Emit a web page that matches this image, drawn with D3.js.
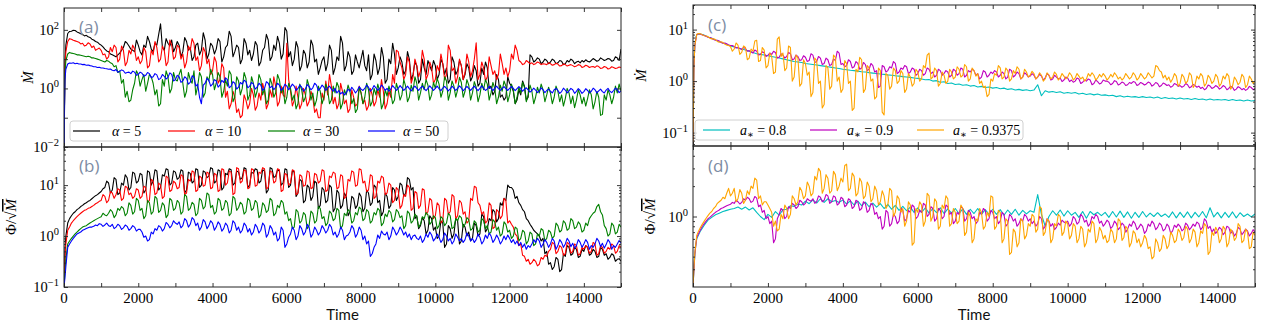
<!DOCTYPE html>
<html>
<head>
<meta charset="utf-8">
<script src="https://cdn.jsdelivr.net/npm/d3@7"></script>
<style>
body { margin: 0; background: #fff; }
text { font-family: "Liberation Serif", "DejaVu Serif", serif; }
</style>
</head>
<body>
<svg id="chart" width="1262" height="330"></svg>
<script>
// coarse time samples (smooth runs)
const timeCoarse = [0, 25, 50, 75,
  100, 200, 300, 400, 500, 600, 700, 800, 900, 1000,
  1100, 1200, 1300, 1400, 1500, 1600, 1700, 1800, 1900, 2000,
  2100, 2200, 2300, 2400, 2500, 2600, 2700, 2800, 2900, 3000,
  3100, 3200, 3300, 3400, 3500, 3600, 3700, 3800, 3900, 4000,
  4100, 4200, 4300, 4400, 4500, 4600, 4700, 4800, 4900, 5000,
  5100, 5200, 5300, 5400, 5500, 5600, 5700, 5800, 5900, 6000,
  6100, 6200, 6300, 6400, 6500, 6600, 6700, 6800, 6900, 7000,
  7100, 7200, 7300, 7400, 7500, 7600, 7700, 7800, 7900, 8000,
  8100, 8200, 8300, 8400, 8500, 8600, 8700, 8800, 8900, 9000,
  9100, 9200, 9300, 9400, 9500, 9600, 9700, 9800, 9900, 10000,
  10100, 10200, 10300, 10400, 10500, 10600, 10700, 10800, 10900, 11000,
  11100, 11200, 11300, 11400, 11500, 11600, 11700, 11800, 11900, 12000,
  12100, 12200, 12300, 12400, 12500, 12600, 12700, 12800, 12900, 13000,
  13100, 13200, 13300, 13400, 13500, 13600, 13700, 13800, 13900, 14000,
  14100, 14200, 14300, 14400, 14500, 14600, 14700, 14800, 14900, 15000];

// fine time samples (noisy runs)
const timeFine = [0, 25,
  50, 100, 150, 200, 250, 300, 350, 400, 450, 500, 550, 600, 650, 700, 750, 800, 850, 900, 950, 1000,
  1050, 1100, 1150, 1200, 1250, 1300, 1350, 1400, 1450, 1500, 1550, 1600, 1650, 1700, 1750, 1800, 1850, 1900, 1950, 2000,
  2050, 2100, 2150, 2200, 2250, 2300, 2350, 2400, 2450, 2500, 2550, 2600, 2650, 2700, 2750, 2800, 2850, 2900, 2950, 3000,
  3050, 3100, 3150, 3200, 3250, 3300, 3350, 3400, 3450, 3500, 3550, 3600, 3650, 3700, 3750, 3800, 3850, 3900, 3950, 4000,
  4050, 4100, 4150, 4200, 4250, 4300, 4350, 4400, 4450, 4500, 4550, 4600, 4650, 4700, 4750, 4800, 4850, 4900, 4950, 5000,
  5050, 5100, 5150, 5200, 5250, 5300, 5350, 5400, 5450, 5500, 5550, 5600, 5650, 5700, 5750, 5800, 5850, 5900, 5950, 6000,
  6050, 6100, 6150, 6200, 6250, 6300, 6350, 6400, 6450, 6500, 6550, 6600, 6650, 6700, 6750, 6800, 6850, 6900, 6950, 7000,
  7050, 7100, 7150, 7200, 7250, 7300, 7350, 7400, 7450, 7500, 7550, 7600, 7650, 7700, 7750, 7800, 7850, 7900, 7950, 8000,
  8050, 8100, 8150, 8200, 8250, 8300, 8350, 8400, 8450, 8500, 8550, 8600, 8650, 8700, 8750, 8800, 8850, 8900, 8950, 9000,
  9050, 9100, 9150, 9200, 9250, 9300, 9350, 9400, 9450, 9500, 9550, 9600, 9650, 9700, 9750, 9800, 9850, 9900, 9950, 10000,
  10050, 10100, 10150, 10200, 10250, 10300, 10350, 10400, 10450, 10500, 10550, 10600, 10650, 10700, 10750, 10800, 10850, 10900, 10950, 11000,
  11050, 11100, 11150, 11200, 11250, 11300, 11350, 11400, 11450, 11500, 11550, 11600, 11650, 11700, 11750, 11800, 11850, 11900, 11950, 12000,
  12050, 12100, 12150, 12200, 12250, 12300, 12350, 12400, 12450, 12500, 12550, 12600, 12650, 12700, 12750, 12800, 12850, 12900, 12950, 13000,
  13050, 13100, 13150, 13200, 13250, 13300, 13350, 13400, 13450, 13500, 13550, 13600, 13650, 13700, 13750, 13800, 13850, 13900, 13950, 14000,
  14050, 14100, 14150, 14200, 14250, 14300, 14350, 14400, 14450, 14500, 14550, 14600, 14650, 14700, 14750, 14800, 14850, 14900, 14950, 15000];

// (a) accretion rate, alpha runs
const mdotA5 = [0.01, 8,
  30, 75, 88, 90, 96, 95, 85, 80, 74, 70, 62, 65, 58, 55, 48, 45, 40, 38, 33, 30,
  26, 22, 19, 18, 15, 14, 13, 12, 14, 16, 20, 25, 40, 35, 28, 22, 20, 18, 45, 30,
  18, 14, 30, 25, 60, 40, 22, 18, 35, 30, 70, 160, 25, 20, 50, 35, 28, 45, 18, 25,
  40, 30, 12, 18, 55, 40, 20, 25, 9, 12, 30, 35, 14, 20, 80, 45, 10, 15, 35, 28,
  15, 22, 50, 40, 8, 12, 25, 30, 90, 60, 12, 18, 30, 25, 7, 10, 50, 35, 14, 20,
  9, 15, 40, 30, 6, 8, 20, 25, 70, 45, 9, 12, 30, 20, 60, 35, 10, 15, 120, 90,
  12, 18, 6, 10, 40, 25, 4, 6, 20, 15, 5, 8, 45, 30, 8, 10, 3, 5, 9, 12,
  4, 7, 30, 20, 3, 5, 12, 9, 60, 35, 4, 6, 18, 12, 3, 4, 14, 8, 5, 10,
  20, 6, 4, 14, 2, 3, 15, 9, 3, 5, 25, 12, 1.5, 2, 10, 7, 35, 15, 3, 5,
  12, 8, 3, 4, 18, 10, 2, 3, 8, 6, 1.5, 2, 10, 5, 3, 9, 6, 4, 9, 6,
  2, 3, 10, 7, 3, 5, 1.5, 2, 12, 8, 3, 4, 9, 6, 2, 3, 7, 5, 1.8, 2.5,
  6, 4, 1.2, 1.5, 5, 3, 8, 5, 1, 1.2, 0.6, 0.8, 3, 2, 0.5, 0.6, 0.4, 0.5, 2.5, 1.5,
  1.2, 0.8, 0.3, 0.4, 0.9, 0.6, 1.8, 1.2, 0.4, 0.5, 14, 12, 8, 9, 11, 10, 7, 8, 10, 9,
  7, 8, 10, 9, 7, 7.5, 9, 8.5, 6.5, 7, 9, 8, 10, 9, 7, 8, 8.5, 7.5, 9, 8,
  9.5, 8.5, 8, 9, 10.5, 9.5, 8.5, 9, 11, 10, 9, 9.5, 10.5, 10, 8.5, 9, 12, 11, 9, 22];
const mdotA10 = [0.01, 5,
  18, 40, 50, 48, 44, 42, 40, 38, 33, 35, 28, 30, 36, 33, 25, 28, 20, 22, 24, 20,
  14, 15, 10, 12, 25, 18, 30, 25, 8, 10, 28, 20, 6, 8, 20, 15, 30, 22, 9, 12,
  7, 9, 25, 18, 5, 6, 20, 14, 40, 25, 8, 10, 28, 20, 6, 8, 45, 30, 10, 12,
  30, 25, 10, 15, 5, 8, 28, 20, 50, 35, 9, 12, 4, 6, 25, 18, 7, 10, 3, 4,
  12, 8, 1.5, 2, 7, 5, 0.5, 0.8, 0.2, 0.3, 0.8, 0.5, 0.15, 0.2, 0.1, 0.12, 0.6, 0.4, 0.2, 0.3,
  1, 0.6, 0.18, 0.25, 0.7, 0.4, 1.5, 0.8, 0.2, 0.3, 0.9, 0.5, 2.5, 1.2, 0.25, 0.35, 1.2, 0.6, 0.5, 35,
  2, 0.8, 0.25, 0.4, 1.2, 0.5, 0.2, 0.3, 1, 0.6, 0.25, 0.35, 0.8, 0.5, 0.15, 0.2, 0.1, 0.1, 0.7, 0.4,
  1.8, 0.6, 3, 1.2, 0.3, 0.5, 0.2, 0.3, 1.5, 0.8, 0.3, 0.4, 0.15, 0.2, 0.9, 0.5, 0.25, 0.3, 1.2, 0.7,
  0.3, 0.4, 0.18, 0.25, 1, 0.6, 0.25, 0.35, 0.9, 0.5, 2, 0.8, 0.2, 0.3, 0.8, 0.5, 3, 1.5, 20, 18,
  8, 5, 2, 3, 12, 8, 1.5, 2.5, 10, 6, 2.5, 4, 20, 10, 2, 3, 8, 5, 1.5, 2,
  6, 4, 15, 7, 2, 3, 30, 20, 4, 5, 1.5, 2.5, 10, 6, 2, 3.5, 15, 8, 2.5, 4,
  10, 36, 2, 3, 8, 5, 1.8, 2.5, 12, 6, 3, 4, 2, 3, 15, 7, 3, 5, 2.5, 4,
  15, 10, 30, 20, 9, 8, 6.5, 7, 9, 8, 7, 7.5, 6.5, 7, 8, 7.5, 6.5, 7, 6.8, 6.5,
  7.5, 7, 6.2, 6.5, 7.2, 6.8, 5.8, 6, 6.8, 6.5, 5.8, 6.2, 6.5, 6, 5.5, 5.8, 6.5, 6.2, 5.2, 5.5,
  6.2, 5.8, 5.2, 5.5, 5.6, 5.2, 5.9, 5.6, 4.8, 5, 5.6, 5.3, 4.6, 4.8, 5.5, 5.2, 4.8, 5, 5.4, 5.2];
const mdotA30 = [0.01, 3,
  9, 15, 17, 16, 15.5, 15, 14, 14, 13.5, 13, 12.5, 12, 12.5, 12, 11, 11, 10.5, 10, 9.5, 9,
  8.5, 8, 9, 8.5, 7.5, 7, 5.5, 6, 3.5, 4, 1.5, 2, 0.5, 0.8, 0.35, 0.4, 0.9, 1.5, 4, 3,
  1.2, 2, 3, 0.8, 1.5, 3, 2.5, 1.5, 0.6, 0.9, 0.25, 0.3, 2, 1.2, 4, 2.5, 0.7, 1, 3.5, 2,
  1.8, 3, 4.5, 1.5, 0.5, 0.8, 3.5, 2, 1.5, 4, 0.6, 1.2, 3.5, 2.5, 0.5, 0.7, 2.5, 1.8, 4.5, 3,
  0.9, 1.5, 3.5, 2.5, 0.5, 0.8, 2, 1.2, 4, 3, 0.35, 0.5, 2.5, 1.8, 0.6, 1, 3.5, 2.2, 0.4, 0.6,
  2.5, 1.5, 0.5, 0.8, 3, 2, 0.6, 1, 0.3, 0.4, 2.2, 1.4, 0.5, 0.7, 3, 2, 0.7, 1.1, 0.3, 0.5,
  1.5, 1, 0.4, 0.6, 0.2, 0.3, 1.4, 0.9, 0.35, 0.5, 2, 1.2, 0.4, 0.7, 0.25, 0.4, 1.2, 0.8, 0.3, 0.5,
  1.4, 0.9, 0.3, 0.4, 1.2, 0.7, 1.6, 1.1, 0.2, 0.3, 0.9, 0.6, 1.3, 0.8, 0.3, 0.45, 0.15, 0.2, 1.1, 0.7,
  0.3, 0.5, 1.5, 0.9, 0.25, 0.35, 1, 0.6, 1.4, 0.8, 0.2, 0.3, 0.9, 0.55, 1.2, 0.7, 0.3, 0.4, 1.5, 0.9,
  0.4, 0.6, 2, 1.2, 0.35, 0.5, 1.3, 0.8, 2.5, 1.5, 0.4, 0.7, 1.5, 0.9, 2, 1.3, 0.4, 0.6, 1.6, 1,
  2.2, 1.4, 0.5, 0.8, 2.5, 1.8, 0.4, 0.7, 1.8, 1.2, 0.5, 0.9, 2.4, 1.6, 0.5, 0.8, 2, 1.3, 0.4, 0.7,
  1.7, 1.1, 0.35, 0.6, 1.5, 0.9, 2, 1.4, 0.4, 0.7, 1.6, 1, 0.3, 0.5, 1.3, 0.8, 1.8, 1.2, 0.35, 0.6,
  1.4, 0.9, 0.3, 0.5, 1.1, 0.7, 1.6, 1.1, 0.35, 0.6, 1.3, 0.8, 0.3, 0.5, 1.1, 0.7, 1.4, 0.9, 0.35, 0.6,
  1.1, 0.7, 0.3, 0.5, 1.2, 0.8, 0.35, 0.6, 0.25, 0.45, 1, 0.7, 0.3, 0.55, 0.22, 0.4, 0.9, 0.6, 0.3, 0.5,
  0.25, 0.45, 0.9, 0.6, 0.2, 0.35, 0.8, 0.5, 0.12, 0.13, 0.6, 0.4, 0.9, 0.6, 0.3, 0.5, 1.2, 0.7, 1.4, 0.8];
const mdotA50 = [0.01, 2,
  4.5, 6.8, 7.4, 7.2, 7.5, 7, 7.2, 6.8, 6.8, 6.5, 6.6, 6.2, 6.3, 6, 5.8, 5.5, 5.5, 5.2, 5.3, 5,
  5, 4.8, 4.7, 4.5, 4.6, 4.2, 4, 4.4, 3.6, 3.8, 4.3, 4, 3.3, 3.5, 3.6, 3.2, 3.9, 3.6, 2.8, 3,
  3.6, 3.3, 2.6, 2.8, 3.5, 3.2, 2.3, 2.5, 3.2, 2.9, 2, 2.2, 3, 2.6, 2.1, 2.4, 3.4, 3, 1.8, 2,
  2.8, 2.5, 1.6, 1.8, 2.5, 2.2, 1.4, 1.6, 2.7, 2.4, 1.2, 1.4, 0.5, 0.3, 1.3, 1.5, 2.2, 1.9, 1.2, 1.4,
  2, 1.8, 1.1, 1.3, 1.9, 1.6, 2.3, 2, 1.05, 1.2, 1.7, 1.5, 0.95, 1.1, 1.6, 1.4, 1.9, 1.7, 1.05, 1.2,
  1.6, 1.4, 0.95, 1.1, 1.5, 1.3, 0.85, 1, 1.7, 1.5, 1.05, 1.2, 0.9, 1.1, 1.5, 1.3, 0.85, 1, 1.4, 1.2,
  0.9, 1.1, 1.4, 1.2, 0.85, 1, 1.3, 1.1, 0.8, 0.95, 1.35, 1.15, 0.9, 1.05, 1.5, 1.3, 0.85, 1, 1.3, 1.1,
  0.85, 1.05, 1.2, 0.95, 0.8, 1, 0.7, 0.85, 0.65, 0.75, 0.6, 0.7, 0.95, 0.8, 1.1, 0.9, 0.7, 0.85, 1.15, 0.95,
  0.85, 1, 1.3, 1.1, 0.8, 0.95, 1.25, 1.05, 0.85, 1, 1.3, 1.1, 0.85, 1, 0.8, 0.95, 1.25, 1.05, 0.85, 1,
  1.25, 1.05, 0.85, 1, 1.2, 0.98, 0.82, 1.02, 1.2, 1, 0.85, 1.05, 1.2, 0.98, 0.84, 1, 1.22, 1.03, 0.85, 1,
  1.2, 0.97, 0.84, 1.03, 1.18, 1, 0.82, 0.96, 1.2, 1.02, 0.85, 1, 1.22, 1.04, 0.83, 0.98, 1.18, 1, 0.86, 1.02,
  1.2, 0.98, 0.84, 1, 1.22, 1.03, 0.85, 0.97, 1.18, 1, 0.84, 1.02, 1.2, 0.99, 0.86, 1.01, 1.16, 0.98, 0.85, 1,
  1.18, 1, 0.84, 0.98, 1.15, 1, 0.8, 0.95, 1.05, 0.9, 0.75, 0.85, 1.02, 0.88, 0.72, 0.82, 1.05, 0.9, 0.72, 0.85,
  0.95, 0.8, 0.7, 0.9, 1, 0.85, 0.68, 0.78, 1.02, 0.88, 0.7, 0.82, 1, 0.9, 0.68, 0.8, 0.98, 0.85, 0.68, 0.78,
  0.98, 0.85, 0.7, 0.8, 1.02, 0.9, 0.7, 0.82, 0.95, 0.78, 0.7, 0.88, 1, 0.8, 0.72, 0.85, 1.02, 0.9, 0.72, 0.82];

// (b) flux ratio, alpha runs
const phiA5 = [0.1, 0.5,
  1.0, 1.8, 2.2, 2.5, 2.8, 3.0, 3.3, 3.5, 3.8, 4.0, 4.3, 4.5, 4.8, 5.0, 5.4, 5.8, 6.2, 6.5, 7, 7.5,
  8.5, 9, 12, 11, 7, 8, 14, 13, 6.5, 7, 11, 10, 16, 14, 8, 9, 18, 17, 11, 12,
  17, 16, 7, 8, 19, 18, 10, 12, 20, 19, 8, 9, 16, 15, 21, 20, 10, 11, 19, 18,
  13, 14, 20, 19, 7, 8, 18, 17, 11, 12, 21, 20, 9, 10, 19, 18, 14, 15, 22, 21,
  11, 12, 20, 19, 8, 9, 17, 16, 21, 20, 10, 11, 19, 18, 13, 14, 22, 21, 9, 10,
  18, 17, 21, 20, 11, 12, 20, 19, 7, 8, 22, 21, 14, 15, 20, 19, 10, 11, 21, 20,
  9, 10, 19, 18, 6, 7, 13, 12, 4.5, 5, 10, 9, 5, 6, 12, 11, 3.5, 4, 9, 8,
  4.5, 5, 10, 9, 3, 3.5, 8, 7, 3.5, 4, 7, 6, 2.5, 3, 6, 5.5, 3.5, 4, 7, 6,
  3, 3.5, 8, 7, 4, 4.5, 10, 9, 4.5, 5, 2.5, 3, 7, 6, 3.5, 4, 9, 8, 5, 6,
  11, 10, 6, 7, 14, 13, 8, 9, 2.2, 2.5, 1.4, 1.6, 2.3, 2, 1.1, 1.3, 2.5, 2.2, 1.3, 1.5,
  0.9, 1, 2, 1.8, 0.6, 0.7, 1.6, 1.4, 0.9, 1.1, 2.2, 2, 0.7, 0.8, 1.7, 1.5, 1.0, 1.2, 0.8, 0.9,
  1.8, 1.6, 1, 1.1, 2.7, 2.4, 1.2, 1.4, 2.2, 2, 3.3, 3, 1.9, 2.2, 4.5, 4, 5.5, 5, 10, 9,
  9, 8, 5.5, 6, 4.5, 4, 3.3, 3, 2.2, 2, 1.7, 1.5, 1.3, 1.2, 1.1, 1, 0.8, 0.9, 0.45, 0.5,
  0.28, 0.3, 0.22, 0.25, 0.38, 0.35, 0.2, 0.22, 0.45, 0.4, 0.65, 0.6, 0.42, 0.45, 0.6, 0.55, 0.38, 0.4, 0.55, 0.5,
  0.65, 0.6, 0.42, 0.45, 0.55, 0.5, 0.38, 0.4, 0.6, 0.55, 0.42, 0.45, 0.35, 0.38, 0.45, 0.42, 0.32, 0.35, 0.36, 0.32];
const phiA10 = [0.1, 0.35,
  0.7, 1.3, 1.5, 1.8, 2.0, 2.2, 2.4, 2.6, 2.8, 3, 3.2, 3.3, 3.5, 3.6, 3.8, 4, 4.3, 4.5, 4.8, 5,
  6.5, 6, 4.5, 5, 7.5, 7, 5.5, 6.5, 8.5, 8, 5, 5.5, 9.5, 9, 6.5, 7, 5.5, 6, 8.5, 8,
  5.5, 6, 9.5, 9, 4.5, 5, 13, 12, 6.5, 7, 11, 10, 5.5, 6, 15, 14, 7.5, 8, 12, 11,
  8.5, 9, 16, 15, 6.5, 7, 13, 12, 19, 18, 7.5, 8, 15, 14, 9.5, 10, 18, 17, 8.5, 9,
  17, 16, 7.5, 8, 21, 20, 10, 11, 19, 18, 6.5, 7, 22, 21, 11, 12, 20, 19, 8.5, 9,
  21, 20, 9.5, 10, 18, 17, 22, 21, 8.5, 9, 19, 18, 11, 12, 21, 20, 7.5, 8, 17, 16,
  10, 11, 20, 19, 6.5, 7, 16, 15, 9.5, 10, 19, 18, 8.5, 9, 17, 16, 11, 12, 20, 19,
  7.5, 8, 15, 14, 18, 17, 8.5, 9, 16, 15, 5.5, 6, 13, 12, 19, 18, 9.5, 10, 21, 20,
  11, 12, 7.5, 8, 16, 15, 5.5, 6, 12, 11, 15, 14, 6.5, 7, 11, 10, 4.5, 5, 9, 8,
  3.5, 4, 6.5, 6, 10, 9, 3.2, 3.5, 7.5, 7, 3.5, 4, 8.5, 8, 2.7, 3, 5.5, 5, 2.2, 2.5,
  4.5, 4, 1.8, 2, 5.5, 5, 2.7, 3, 6.5, 6, 2.2, 2.5, 5, 4.5, 2.7, 3, 1.8, 2, 5.5, 5,
  9.5, 9, 4.5, 4, 2.7, 3, 1.8, 2, 4.5, 4, 1.4, 1.5, 3.3, 3, 2.2, 2.5, 5.5, 5, 1.8, 2,
  1.7, 1.5, 1.1, 1, 0.65, 0.7, 0.42, 0.4, 0.32, 0.35, 0.28, 0.3, 0.35, 0.32, 0.26, 0.28, 0.38, 0.35, 0.42, 0.4,
  0.5, 0.55, 0.75, 0.7, 0.45, 0.5, 0.65, 0.6, 0.42, 0.45, 0.75, 0.7, 0.46, 0.5, 0.7, 0.65, 0.42, 0.45, 0.6, 0.55,
  0.65, 0.6, 0.46, 0.5, 0.75, 0.7, 0.42, 0.45, 0.65, 0.6, 0.46, 0.5, 0.6, 0.55, 0.7, 0.65, 0.46, 0.5, 0.65, 0.6];
const phiA30 = [0.1, 0.2,
  0.35, 0.7, 0.8, 0.9, 1.0, 1.1, 1.2, 1.3, 1.4, 1.5, 1.55, 1.6, 1.7, 1.8, 1.9, 2, 2.1, 2.2, 2.3, 2.4,
  2.8, 2.6, 2.5, 2.8, 3.3, 3, 2.3, 2.6, 3.5, 3.2, 3.8, 3.5, 2.5, 2.8, 4.5, 4, 2.7, 3, 5.5, 5,
  3.2, 3.5, 2.2, 2.5, 5, 4.5, 2.7, 3, 6, 5.5, 2.9, 3.2, 4.5, 4, 2.3, 2.6, 5.5, 5, 3.2, 3.5,
  5, 4.5, 2.7, 3, 6.5, 6, 3.2, 3.5, 4.6, 4.2, 2.5, 2.8, 5.5, 5, 3.4, 3.8, 7, 6.5, 3.6, 4,
  2.7, 3, 5.5, 5, 3.2, 3.5, 5, 4.5, 2.5, 2.8, 6, 5.5, 3.2, 3.6, 4.6, 4.2, 2.7, 3, 5.5, 5,
  3.2, 3.5, 5, 4.5, 2.3, 2.6, 4.5, 4, 2.9, 3.2, 5.5, 5, 2.5, 2.8, 4, 3.6, 5, 4.5, 2.7, 3,
  2, 2.2, 1.4, 1.5, 3.3, 3, 1.8, 2, 2.9, 2.6, 1.4, 1.6, 3.1, 2.8, 1.8, 2, 3.8, 3.5, 2.2, 2.4,
  1.6, 1.8, 3.1, 2.8, 2, 2.2, 3.5, 3.2, 1.4, 1.6, 2.8, 2.5, 3.3, 3, 1.8, 2, 2.9, 2.6, 3.7, 3.4,
  2, 2.2, 3.3, 3, 1.8, 2, 2.9, 2.6, 3.5, 3.2, 1.6, 1.8, 2.7, 2.4, 3.2, 2.9, 1.9, 2.1, 3.3, 3,
  2.3, 2.5, 1.4, 1.6, 3.1, 2.8, 1.8, 2, 2.7, 2.4, 1.5, 1.7, 2.4, 2.2, 2.9, 2.6, 1.7, 1.9, 2.5, 2.3,
  1.4, 1.6, 2.4, 2.2, 1.6, 1.8, 2.8, 2.5, 1.4, 1.5, 2.2, 2, 2.5, 2.3, 1.5, 1.7, 2.3, 2.1, 1.3, 1.4,
  2, 1.8, 1.2, 1.3, 2.2, 2, 1.4, 1.6, 1.1, 1.2, 2.1, 1.9, 1.3, 1.5, 1, 1.1, 1.9, 1.7, 1.2, 1.3,
  0.9, 1, 1.5, 1.4, 0.8, 0.9, 1.3, 1.2, 0.7, 0.8, 1.2, 1.1, 0.65, 0.7, 1.1, 1, 1.4, 1.3, 0.8, 0.9,
  1.3, 1.2, 0.9, 1, 1.8, 1.6, 1.2, 1.3, 2, 1.8, 1.3, 1.4, 2.2, 2, 1.4, 1.5, 1.9, 1.7, 1.2, 1.3,
  1.8, 1.6, 2.2, 2.5, 2.8, 3, 3.8, 4.2, 3, 2.6, 1.6, 1.4, 1.0, 1.1, 1.8, 1.6, 1.1, 1.2, 1.7, 1.5];
const phiA50 = [0.1, 0.15,
  0.25, 0.6, 0.7, 0.8, 0.9, 1.0, 1.1, 1.15, 1.2, 1.3, 1.35, 1.4, 1.45, 1.5, 1.5, 1.55, 1.65, 1.6, 1.75, 1.7,
  1.55, 1.65, 1.8, 1.6, 1.55, 1.7, 1.4, 1.5, 1.7, 1.6, 1.35, 1.45, 1.65, 1.55, 1.3, 1.4, 1.6, 1.5, 1.25, 1.35,
  1.35, 1.2, 0.95, 1.0, 0.8, 0.85, 1.2, 1.1, 1.4, 1.3, 1.6, 1.5, 1.25, 1.4, 1.85, 1.7, 1.45, 1.6, 2.0, 1.8,
  1.7, 1.9, 1.45, 1.6, 2.2, 2.0, 1.5, 1.7, 2.3, 2.1, 1.6, 1.8, 1.3, 1.5, 2.1, 1.9, 1.4, 1.6, 2.0, 1.8,
  1.3, 1.5, 1.9, 1.7, 1.25, 1.4, 1.8, 1.6, 1.15, 1.3, 2.0, 1.8, 1.3, 1.5, 1.15, 1.3, 1.8, 1.6, 1.2, 1.4,
  1.05, 1.2, 1.7, 1.5, 1.15, 1.3, 1.8, 1.6, 0.95, 1.1, 1.6, 1.4, 1.05, 1.2, 0.8, 0.9, 1.5, 1.3, 0.6, 0.7,
  0.95, 1.1, 1.5, 1.3, 0.85, 1.0, 1.6, 1.4, 1.05, 1.2, 1.7, 1.5, 0.95, 1.1, 1.5, 1.3, 1.05, 1.2, 1.6, 1.4,
  1.15, 1.3, 1.7, 1.5, 1.05, 1.2, 0.95, 1.1, 1.5, 1.3, 0.85, 1.0, 1.05, 1.2, 1.6, 1.4, 0.95, 1.1, 1.5, 1.3,
  0.85, 1.0, 0.7, 0.8, 0.4, 0.45, 0.6, 0.7, 1.05, 0.9, 1.25, 1.1, 1.05, 1.2, 0.85, 1.0, 1.5, 1.3, 1.05, 1.2,
  1.5, 1.3, 1.05, 1.2, 0.95, 1.1, 0.85, 1.0, 1.05, 0.9, 0.85, 1.0, 0.75, 0.85, 1.1, 0.95, 1.2, 1.05, 0.8, 0.9,
  1.1, 0.95, 0.75, 0.85, 1.15, 1.0, 0.8, 0.9, 0.7, 0.8, 1.1, 0.95, 0.8, 0.9, 0.75, 0.85, 1.15, 1.0, 0.8, 0.9,
  0.75, 0.85, 1.1, 0.95, 0.7, 0.8, 1.05, 0.9, 1.15, 1.0, 0.75, 0.85, 1.05, 0.9, 0.7, 0.8, 1.0, 0.85, 1.05, 0.9,
  0.75, 0.85, 0.7, 0.8, 0.65, 0.75, 0.6, 0.7, 0.55, 0.65, 0.6, 0.7, 0.85, 0.75, 0.9, 0.8, 0.6, 0.7, 0.85, 0.75,
  0.6, 0.7, 0.9, 0.8, 0.55, 0.65, 0.85, 0.75, 0.6, 0.7, 0.9, 0.8, 0.62, 0.72, 0.58, 0.65, 0.85, 0.75, 0.6, 0.7,
  0.85, 0.75, 0.55, 0.65, 0.6, 0.7, 0.9, 0.8, 0.62, 0.72, 0.58, 0.68, 0.85, 0.75, 0.55, 0.65, 0.6, 0.7, 0.82, 0.72];

// (c) accretion rate, spin runs
const mdotS80 = [0.055, 2, 5, 7,
  8.0, 8.2, 7.8, 7.2, 6.8, 6.3, 5.9, 5.5, 5.2, 4.8,
  4.6, 4.4, 4.2, 4.0, 3.8, 3.6, 3.4, 3.3, 3.2, 3.1,
  3.0, 2.9, 2.8, 2.7, 2.6, 2.5, 2.4, 2.35, 2.3, 2.2,
  2.15, 2.1, 2.05, 2.0, 1.95, 1.9, 1.85, 1.8, 1.75, 1.7,
  1.66, 1.62, 1.6, 1.56, 1.52, 1.5, 1.46, 1.43, 1.4, 1.37,
  1.35, 1.32, 1.3, 1.27, 1.25, 1.22, 1.2, 1.18, 1.15, 1.13,
  1.1, 1.06, 1.07, 1.0, 1.02, 0.95, 0.97, 0.9, 0.92, 0.86,
  0.88, 0.83, 0.85, 0.8, 0.82, 0.77, 0.79, 0.75, 0.77, 0.73,
  0.75, 0.71, 0.73, 0.69, 0.71, 0.67, 0.69, 0.66, 0.68, 0.65,
  0.67, 0.85, 0.52, 0.65, 0.61, 0.63, 0.6, 0.62, 0.58, 0.6,
  0.58, 0.6, 0.56, 0.58, 0.55, 0.57, 0.54, 0.56, 0.53, 0.54,
  0.52, 0.53, 0.5, 0.52, 0.49, 0.51, 0.49, 0.5, 0.48, 0.5,
  0.48, 0.49, 0.47, 0.49, 0.46, 0.48, 0.46, 0.47, 0.45, 0.47,
  0.45, 0.46, 0.44, 0.46, 0.44, 0.45, 0.43, 0.45, 0.43, 0.44,
  0.43, 0.44, 0.42, 0.44, 0.42, 0.43, 0.41, 0.43, 0.41, 0.42];
const mdotS90 = [0.055, 2,
  5, 8.0, 8.3, 8.1, 7.9, 7.7, 7.4, 7.1, 7.0, 6.8, 6.4, 6.2, 6.2, 6.0, 5.6, 5.4, 5.5, 5.3, 5.0, 4.9,
  4.9, 4.7, 4.4, 4.5, 4.3, 4.1, 4.5, 4.3, 3.8, 3.9, 3.7, 3.5, 4.0, 3.8, 3.2, 3.3, 3.7, 3.5, 3.0, 3.2,
  3.5, 3.3, 3.8, 3.6, 2.8, 2.9, 3.4, 3.2, 2.8, 3.0, 3.6, 3.4, 2.6, 2.7, 3.2, 3.0, 2.5, 2.6, 3.1, 2.9,
  2.4, 2.5, 3.4, 3.2, 2.3, 2.4, 3.0, 2.8, 2.1, 2.2, 2.8, 2.6, 2.0, 2.1, 2.7, 2.5, 3.8, 3.5, 2.1, 2.2,
  1.9, 2.0, 2.6, 2.4, 1.8, 1.9, 2.4, 2.2, 1.7, 1.8, 2.3, 2.1, 1.6, 1.7, 2.2, 2.0, 1.5, 1.6, 0.75, 0.8,
  2.0, 1.9, 1.5, 1.6, 1.9, 1.8, 2.4, 2.2, 1.4, 1.5, 1.8, 1.7, 2.0, 1.9, 1.4, 1.5, 1.8, 1.7, 1.3, 1.4,
  1.7, 1.6, 1.3, 1.4, 1.8, 1.7, 1.4, 1.5, 1.2, 1.3, 1.7, 1.6, 1.3, 1.4, 1.6, 1.5, 1.2, 1.3, 1.7, 1.6,
  1.3, 1.4, 1.8, 1.7, 1.2, 1.3, 1.6, 1.5, 1.7, 1.6, 1.3, 1.4, 1.1, 1.2, 1.6, 1.5, 1.2, 1.3, 1.5, 1.4,
  1.6, 1.5, 1.2, 1.3, 1.5, 1.4, 1.1, 1.2, 1.7, 1.6, 1.2, 1.3, 1.5, 1.4, 1.1, 1.2, 1.45, 1.35, 1.2, 1.25,
  1.4, 1.3, 1.1, 1.2, 1.35, 1.25, 1.05, 1.15, 1.4, 1.3, 1.05, 1.1, 1.3, 1.2, 1.1, 1.15, 0.98, 1.05, 1.2, 1.15,
  0.98, 1.05, 0.95, 1.0, 1.15, 1.1, 0.9, 0.95, 1.05, 1.0, 1.1, 1.05, 0.85, 0.9, 1.05, 0.98, 0.88, 0.92, 1.05, 1.0,
  1.0, 0.95, 0.85, 0.9, 1.02, 0.98, 0.84, 0.88, 0.96, 0.92, 0.82, 0.85, 0.94, 0.9, 0.98, 0.95, 0.82, 0.86, 0.94, 0.9,
  0.84, 0.88, 0.96, 0.92, 0.8, 0.85, 0.94, 0.9, 0.78, 0.82, 0.92, 0.88, 0.82, 0.85, 0.76, 0.8, 0.9, 0.86, 0.79, 0.82,
  0.76, 0.8, 0.9, 0.85, 0.74, 0.78, 0.86, 0.82, 0.76, 0.8, 0.72, 0.76, 0.68, 0.72, 0.84, 0.8, 0.72, 0.75, 0.82, 0.78,
  0.7, 0.74, 0.82, 0.78, 0.68, 0.72, 0.8, 0.76, 0.66, 0.7, 0.78, 0.74, 0.68, 0.72, 0.66, 0.7, 0.79, 0.75, 0.68, 0.72];
const mdotS9375 = [0.055, 2,
  5, 8.1, 8.4, 8.3, 7.9, 7.6, 7.5, 7.3, 6.8, 6.6, 6.6, 6.4, 5.9, 5.7, 5.8, 5.6, 5.2, 5.0, 4.9, 4.7,
  3.8, 4.2, 5.5, 5.0, 3.3, 3.6, 4.8, 4.5, 2.6, 2.8, 4.2, 3.8, 6.0, 6.2, 2.4, 2.5, 4.5, 4.0, 1.8, 2.0,
  3.5, 3.0, 1.4, 1.5, 6.5, 7.2, 3.0, 3.5, 1.6, 1.8, 4.8, 4.5, 1.0, 1.2, 3.2, 2.8, 0.8, 0.9, 2.6, 2.2,
  1.3, 1.5, 0.5, 0.6, 2.8, 2.5, 0.9, 1.0, 0.3, 0.35, 2.0, 1.8, 0.7, 0.8, 3.2, 2.9, 1.0, 1.2, 0.6, 0.7,
  2.5, 2.2, 0.9, 1.0, 0.27, 0.3, 1.7, 1.5, 2.9, 2.6, 0.6, 0.7, 2.0, 1.8, 1.0, 1.1, 0.45, 0.5, 1.8, 1.6,
  0.25, 0.22, 1.4, 1.3, 0.7, 0.8, 1.8, 1.6, 0.9, 1.0, 1.6, 1.4, 0.6, 0.7, 1.4, 1.2, 0.8, 0.9, 1.7, 1.5,
  1.0, 1.1, 2.0, 1.8, 3.2, 3.5, 1.1, 1.2, 1.8, 1.6, 0.8, 0.9, 1.5, 1.3, 0.9, 1.0, 1.7, 1.5, 1.1, 1.2,
  1.9, 1.7, 1.2, 1.3, 2.1, 1.9, 1.0, 1.1, 1.8, 1.6, 1.25, 1.4, 0.9, 1.0, 0.75, 0.8, 0.5, 0.55, 1.1, 1.0,
  1.4, 1.3, 2.0, 1.8, 1.1, 1.2, 1.8, 1.6, 1.0, 1.1, 1.6, 1.4, 1.9, 1.7, 1.1, 1.2, 1.7, 1.5, 1.2, 1.3,
  1.55, 1.4, 1.1, 1.2, 1.45, 1.3, 1.0, 1.1, 1.45, 1.3, 1.1, 1.2, 1.5, 1.35, 1.05, 1.15, 1.4, 1.25, 1.1, 1.2,
  1.45, 1.3, 1.05, 1.15, 1.4, 1.25, 1.1, 1.2, 1.0, 1.1, 1.4, 1.25, 1.45, 1.3, 1.05, 1.15, 1.35, 1.2, 1.4, 1.25,
  1.05, 1.15, 1.35, 1.2, 1.45, 1.3, 1.1, 1.2, 1.05, 1.15, 1.4, 1.25, 1.1, 1.2, 1.45, 1.3, 1.05, 1.15, 1.4, 1.25,
  1.1, 1.2, 1.45, 1.3, 1.15, 1.25, 2.0, 1.9, 1.6, 1.5, 1.15, 1.3, 1.05, 1.2, 0.95, 1.1, 1.4, 1.25, 0.8, 0.9,
  1.35, 1.2, 0.9, 1.0, 1.45, 1.3, 0.75, 0.85, 1.25, 1.1, 1.4, 1.25, 0.8, 0.9, 1.3, 1.15, 0.9, 1.0, 1.35, 1.2,
  0.8, 0.9, 1.25, 1.1, 1.4, 1.25, 0.7, 0.8, 1.2, 1.05, 0.85, 0.95, 1.35, 1.2, 0.75, 0.85, 1.25, 1.1, 0.9, 1.0];

// (d) flux ratio, spin runs
const phiS80 = [0.2, 0.3, 0.42, 0.52,
  0.6, 0.72, 0.82, 0.92, 0.98, 1.04, 1.08, 1.12, 1.15, 1.18,
  1.2, 1.24, 1.18, 1.24, 1.16, 1.22, 1.1, 1.0, 0.93, 1.05,
  0.98, 1.12, 1.03, 1.17, 1.18, 1.28, 1.26, 1.33, 1.3, 1.42,
  1.34, 1.46, 1.36, 1.5, 1.38, 1.5, 1.4, 1.44, 1.38, 1.46,
  1.33, 1.43, 1.3, 1.42, 1.28, 1.39, 1.25, 1.36, 1.24, 1.34,
  1.2, 1.32, 1.18, 1.29, 1.15, 1.26, 1.14, 1.24, 1.1, 1.22,
  1.1, 1.22, 1.08, 1.2, 1.09, 1.22, 1.07, 1.19, 1.08, 1.2,
  1.07, 1.19, 1.05, 1.18, 1.07, 1.2, 1.05, 1.17, 1.05, 1.18,
  1.05, 1.17, 1.03, 1.16, 1.05, 1.18, 1.03, 1.15, 1.06, 1.14,
  1.1, 1.65, 1.05, 0.8, 1.0, 1.14, 1.03, 1.16, 1.01, 1.14,
  1.03, 1.1, 0.98, 1.12, 0.96, 1.12, 1.04, 1.1, 1.02, 1.1,
  0.98, 1.12, 0.99, 1.13, 0.98, 1.11, 0.96, 1.1, 0.98, 1.12,
  0.99, 1.08, 1.0, 1.09, 1.0, 1.06, 0.98, 1.11, 0.97, 1.1,
  0.98, 1.11, 0.97, 1.1, 0.99, 1.12, 0.97, 1.22, 0.99, 1.1,
  0.97, 1.1, 0.98, 1.11, 0.97, 1.09, 1.0, 1.06, 0.99, 1.06];
const phiS90 = [0.2, 0.3,
  0.43, 0.62, 0.68, 0.74, 0.8, 0.85, 0.9, 0.95, 0.98, 1.02, 1.06, 1.1, 1.13, 1.16, 1.2, 1.22, 1.25, 1.28, 1.3, 1.32,
  1.38, 1.35, 1.45, 1.4, 1.33, 1.38, 1.5, 1.45, 1.55, 1.5, 1.38, 1.42, 1.58, 1.52, 1.25, 1.3, 1.1, 1.15, 0.95, 1.0,
  0.85, 0.9, 0.55, 0.6, 0.95, 1.05, 1.2, 1.15, 0.95, 1.0, 1.25, 1.2, 1.35, 1.3, 1.2, 1.25, 1.45, 1.4, 1.3, 1.35,
  1.5, 1.45, 1.42, 1.5, 1.35, 1.4, 1.6, 1.55, 1.4, 1.45, 1.65, 1.6, 1.35, 1.4, 1.6, 1.55, 1.3, 1.35, 1.55, 1.5,
  1.25, 1.3, 1.5, 1.45, 1.2, 1.25, 1.45, 1.4, 1.15, 1.2, 1.4, 1.35, 1.1, 1.15, 1.35, 1.3, 1.05, 1.1, 0.95, 1.0,
  0.75, 0.8, 1.15, 1.1, 0.8, 0.85, 1.05, 1.0, 0.85, 0.9, 1.2, 1.15, 0.9, 0.95, 1.15, 1.1, 1.3, 1.25, 0.95, 1.0,
  1.15, 1.1, 1.35, 1.3, 1.0, 1.05, 1.25, 1.2, 0.9, 0.95, 1.2, 1.15, 0.95, 1.0, 1.3, 1.25, 1.05, 1.1, 0.85, 0.9,
  1.1, 1.05, 1.25, 1.2, 0.9, 0.95, 1.15, 1.1, 0.95, 1.0, 0.85, 0.9, 1.1, 1.05, 1.2, 1.15, 0.9, 0.95, 1.15, 1.1,
  0.95, 1.0, 0.85, 0.9, 1.1, 1.05, 0.8, 0.85, 1.05, 1.0, 0.9, 0.95, 0.8, 0.85, 0.95, 0.9, 1.05, 1.0, 0.9, 0.95,
  0.85, 0.9, 0.8, 0.85, 1.0, 0.95, 0.75, 0.8, 0.95, 0.9, 0.8, 0.85, 0.74, 0.78, 0.86, 0.82, 0.92, 0.88, 0.86, 0.9,
  0.8, 0.85, 1.0, 0.95, 0.84, 0.88, 1.05, 1.0, 0.88, 0.92, 0.8, 0.85, 1.0, 0.95, 1.05, 1.0, 0.86, 0.9, 0.8, 0.85,
  0.92, 0.88, 0.76, 0.8, 0.9, 0.85, 0.74, 0.78, 0.86, 0.82, 0.7, 0.75, 0.84, 0.8, 0.9, 0.85, 0.74, 0.78, 0.84, 0.8,
  0.68, 0.72, 0.84, 0.8, 0.9, 0.85, 0.74, 0.78, 0.86, 0.82, 0.72, 0.75, 0.84, 0.8, 0.68, 0.72, 0.82, 0.78, 0.84, 0.8,
  0.72, 0.75, 0.86, 0.82, 0.74, 0.78, 0.84, 0.8, 0.88, 0.85, 0.74, 0.78, 0.95, 0.9, 0.76, 0.8, 0.7, 0.75, 0.68, 0.72,
  0.78, 0.75, 0.66, 0.7, 0.8, 0.78, 0.68, 0.72, 0.64, 0.68, 0.78, 0.75, 0.66, 0.7, 0.75, 0.72, 0.64, 0.68, 0.74, 0.7];
const phiS9375 = [0.2, 0.31,
  0.44, 0.65, 0.72, 0.78, 0.84, 0.9, 0.96, 1.02, 1.08, 1.12, 1.2, 1.25, 1.35, 1.4, 1.45, 1.55, 1.5, 1.7, 1.9, 1.6,
  1.7, 1.9, 1.4, 1.5, 1.85, 1.7, 1.35, 1.45, 1.8, 1.65, 2.0, 1.9, 2.4, 2.3, 1.5, 1.6, 1.3, 1.4, 1.4, 1.3,
  1.2, 1.1, 0.8, 0.9, 0.72, 0.75, 1.05, 0.95, 1.3, 1.2, 0.95, 1.05, 1.6, 1.5, 1.3, 1.4, 1.95, 1.8, 1.5, 1.6,
  2.2, 2.0, 1.6, 1.7, 2.5, 2.3, 3.0, 2.8, 1.7, 1.9, 2.6, 2.4, 1.7, 1.8, 2.8, 2.6, 1.8, 2.0, 2.4, 2.2,
  3.2, 3.3, 1.8, 1.9, 2.7, 2.5, 1.6, 1.7, 2.4, 2.2, 1.5, 1.6, 2.2, 2.0, 1.4, 1.5, 2.0, 1.8, 1.3, 1.4,
  1.8, 1.6, 1.2, 1.3, 1.9, 1.8, 1.0, 1.1, 1.6, 1.5, 1.1, 1.2, 0.8, 0.9, 1.4, 1.3, 0.52, 0.55, 1.2, 1.1,
  1.4, 1.3, 0.8, 0.9, 1.7, 1.6, 0.9, 1.0, 1.5, 1.4, 0.75, 0.8, 1.3, 1.2, 1.6, 1.5, 0.8, 0.85, 1.2, 1.1,
  0.85, 0.9, 1.3, 1.2, 0.65, 0.7, 1.1, 1.0, 0.55, 0.6, 0.95, 0.9, 1.2, 1.1, 0.75, 0.8, 1.1, 1.0, 1.6, 1.55,
  0.75, 0.8, 1.15, 1.1, 0.55, 0.6, 0.95, 0.9, 0.42, 0.44, 0.75, 0.7, 0.5, 0.55, 0.95, 0.9, 0.6, 0.65, 0.85, 0.8,
  1.05, 1.0, 0.7, 0.75, 1.25, 1.2, 0.65, 0.7, 0.95, 0.9, 0.55, 0.6, 0.85, 0.8, 1.05, 1.0, 0.65, 0.7, 0.9, 0.85,
  0.6, 0.65, 0.85, 0.8, 0.55, 0.6, 0.8, 0.75, 0.5, 0.55, 0.75, 0.7, 0.9, 0.85, 0.55, 0.6, 0.78, 0.72, 0.6, 0.65,
  0.55, 0.58, 0.75, 0.7, 0.55, 0.6, 0.95, 0.9, 0.58, 0.62, 0.8, 0.75, 0.5, 0.55, 0.72, 0.68, 0.55, 0.6, 0.5, 0.55,
  0.65, 0.6, 0.48, 0.5, 0.38, 0.4, 0.6, 0.55, 0.45, 0.48, 0.65, 0.6, 0.48, 0.52, 0.7, 0.65, 0.55, 0.58, 0.75, 0.7,
  0.58, 0.62, 0.8, 0.75, 0.55, 0.6, 0.75, 0.7, 0.5, 0.55, 0.72, 0.68, 0.85, 0.8, 0.42, 0.45, 0.7, 0.65, 0.78, 0.72,
  0.55, 0.6, 0.8, 0.75, 0.5, 0.55, 0.75, 0.7, 0.58, 0.62, 0.85, 0.8, 0.55, 0.58, 0.75, 0.7, 0.48, 0.5, 0.7, 0.65];

// ticks and legend labels
const xTicks = [0, 1000, 2000, 3000, 4000, 5000, 6000, 7000, 8000,
  9000, 10000, 11000, 12000, 13000, 14000, 15000];
const xTickLabels = [0, 2000, 4000, 6000, 8000, 10000, 12000, 14000];
const alphaLabels = ["5", "10", "30", "50"];
const spinLabels = ["0.8", "0.9", "0.9375"];

const alphaColors = ["#000000", "#ff0000", "#008000", "#0000ff"];
const spinColors = ["#00bfbf", "#bf00bf", "#ffa500"];

const svg = d3.select("#chart");

const panels = [
  { tag: "a", left: 64, right: 621, top: 8, bottom: 147, domain: [0.01, 557],
    series: [[timeFine, mdotA5], [timeFine, mdotA10], [timeFine, mdotA30], [timeFine, mdotA50]],
    colors: alphaColors,
    major: [0.01, 0.1, 1, 10, 100], minor: [], labels: [[0.01, "−2"], [1, "0"], [100, "2"]],
    ylab: "mdot", ylabX: 33, letterY: 33, xlabels: false },
  { tag: "b", left: 64, right: 621, top: 147, bottom: 287, domain: [0.1, 56],
    series: [[timeFine, phiA5], [timeFine, phiA10], [timeFine, phiA30], [timeFine, phiA50]],
    colors: alphaColors,
    major: [0.1, 1, 10], minor: [0.2, 0.3, 0.4, 0.5, 0.6, 0.7, 0.8, 0.9, 2, 3, 4, 5, 6, 7, 8, 9, 20, 30, 40, 50],
    labels: [[0.1, "−1"], [1, "0"], [10, "1"]],
    ylab: "phi", ylabX: 16, letterY: 172, xlabels: true },
  { tag: "c", left: 693, right: 1255, top: 5, bottom: 146, domain: [0.055, 30],
    series: [[timeCoarse, mdotS80], [timeFine, mdotS90], [timeFine, mdotS9375]],
    colors: spinColors,
    major: [0.1, 1, 10], minor: [0.06, 0.07, 0.08, 0.09, 0.2, 0.3, 0.4, 0.5, 0.6, 0.7, 0.8, 0.9, 2, 3, 4, 5, 6, 7, 8, 9, 20, 30],
    labels: [[0.1, "−1"], [1, "0"], [10, "1"]],
    ylab: "mdot", ylabX: 646, letterY: 31, xlabels: false },
  { tag: "d", left: 693, right: 1255, top: 146, bottom: 287, domain: [0.2, 5],
    series: [[timeCoarse, phiS80], [timeFine, phiS90], [timeFine, phiS9375]],
    colors: spinColors,
    major: [1], minor: [0.3, 0.4, 0.5, 0.6, 0.7, 0.8, 0.9, 2, 3, 4],
    labels: [[1, "0"]],
    ylab: "phi", ylabX: 655, letterY: 172, xlabels: true }
];

function yLabel(x, y, kind) {
  const t = svg.append("text")
    .attr("transform", `translate(${x},${y}) rotate(-90)`)
    .attr("text-anchor", "middle")
    .attr("font-size", 15)
    .attr("fill", "#000");
  if (kind === "mdot") {
    t.append("tspan").attr("font-style", "italic").text("Ṁ");
  } else {
    t.append("tspan").text("Φ/√");
    t.append("tspan").attr("font-style", "italic")
      .style("text-decoration", "overline").text("Ṁ");
  }
}

panels.forEach(p => {
  const x = d3.scaleLinear().domain([0, 15000]).range([p.left, p.right]);
  const y = d3.scaleLog().domain(p.domain).range([p.bottom, p.top]);

  svg.append("clipPath").attr("id", "clip-" + p.tag)
    .append("rect")
    .attr("x", p.left).attr("y", p.top)
    .attr("width", p.right - p.left).attr("height", p.bottom - p.top);

  svg.append("g")
    .attr("clip-path", `url(#clip-${p.tag})`)
    .selectAll("path")
    .data(p.series)
    .join("path")
    .attr("d", ([t, v]) => d3.line()
      .defined((d, i) => i < t.length)
      .x((d, i) => x(t[i]))
      .y(d => y(d))(v))
    .attr("fill", "none")
    .attr("stroke", (d, i) => p.colors[i])
    .attr("stroke-width", 1.1)
    .attr("stroke-linejoin", "round");

  // ticks on all sides, pointing in
  const axes = svg.append("g").attr("color", "#222");
  axes.append("g").attr("transform", `translate(0,${p.bottom})`)
    .call(d3.axisBottom(x).tickValues(xTicks).tickSizeInner(-4).tickSizeOuter(0).tickFormat(""));
  axes.append("g").attr("transform", `translate(0,${p.top})`)
    .call(d3.axisTop(x).tickValues(xTicks).tickSizeInner(-4).tickSizeOuter(0).tickFormat(""));
  axes.append("g").attr("transform", `translate(${p.left},0)`)
    .call(d3.axisLeft(y).tickValues(p.major).tickSizeInner(-4).tickSizeOuter(0).tickFormat(""));
  axes.append("g").attr("transform", `translate(${p.right},0)`)
    .call(d3.axisRight(y).tickValues(p.major).tickSizeInner(-4).tickSizeOuter(0).tickFormat(""));
  axes.append("g").attr("transform", `translate(${p.left},0)`)
    .call(d3.axisLeft(y).tickValues(p.minor).tickSizeInner(-2).tickSizeOuter(0).tickFormat(""));
  axes.append("g").attr("transform", `translate(${p.right},0)`)
    .call(d3.axisRight(y).tickValues(p.minor).tickSizeInner(-2).tickSizeOuter(0).tickFormat(""));
  axes.selectAll(".domain").remove();
  axes.selectAll("line").attr("stroke-width", 0.9);

  svg.append("rect")
    .attr("x", p.left).attr("y", p.top)
    .attr("width", p.right - p.left).attr("height", p.bottom - p.top)
    .attr("fill", "none").attr("stroke", "#222").attr("stroke-width", 1);

  // y tick labels 10^n
  p.labels.forEach(([v, e]) => {
    const t = svg.append("text")
      .attr("x", p.left - 5).attr("y", y(v) + 5)
      .attr("text-anchor", "end")
      .attr("font-size", 14.5).attr("fill", "#000");
    t.append("tspan").text("10");
    t.append("tspan").attr("dy", -6).attr("font-size", 10.5).text(e);
  });

  if (p.xlabels) {
    svg.append("g").selectAll("text")
      .data(xTickLabels)
      .join("text")
      .attr("x", d => x(d)).attr("y", 303)
      .attr("text-anchor", "middle")
      .attr("font-size", 15).attr("fill", "#000")
      .text(d => d);
    svg.append("text")
      .attr("x", (p.left + p.right) / 2).attr("y", 320)
      .attr("text-anchor", "middle")
      .style("font-family", "Lato, 'Open Sans', sans-serif")
      .attr("font-size", 15).attr("fill", "#111")
      .text("Time");
  }

  svg.append("text")
    .attr("x", p.left + 15).attr("y", p.letterY)
    .style("font-family", "'Open Sans', 'DejaVu Sans', sans-serif")
    .attr("font-size", 17).attr("fill", "#7d8ca3")
    .text("(" + p.tag + ")");

  yLabel(p.ylabX, (p.top + p.bottom) / 2, p.ylab);
});

// legends
function legend(box, items, colors, lineXs, textXs, kind) {
  svg.append("rect")
    .attr("x", box[0]).attr("y", box[1])
    .attr("width", box[2] - box[0]).attr("height", box[3] - box[1])
    .attr("rx", 3)
    .attr("fill", "#fff").attr("fill-opacity", 0.8)
    .attr("stroke", "#d0d0d0").attr("stroke-width", 1);
  const cy = (box[1] + box[3]) / 2;
  items.forEach((lab, i) => {
    svg.append("line")
      .attr("x1", lineXs[i]).attr("x2", lineXs[i] + 27)
      .attr("y1", cy).attr("y2", cy)
      .attr("stroke", colors[i]).attr("stroke-width", 1.2);
    const t = svg.append("text")
      .attr("x", textXs[i]).attr("y", cy + 5)
      .attr("font-size", 14).attr("fill", "#000");
    if (kind === "alpha") {
      t.append("tspan").attr("font-style", "italic").text("α");
      t.append("tspan").text(" = " + lab);
    } else {
      t.append("tspan").attr("font-style", "italic").text("a");
      t.append("tspan").attr("font-size", 10).attr("dy", 3).text("∗");
      t.append("tspan").attr("dy", -3).text(" = " + lab);
    }
  });
}

legend([70, 121, 448, 141], alphaLabels, alphaColors,
  [73, 168, 268, 368], [112, 205, 303, 403], "alpha");
legend([695, 120, 1023, 140], spinLabels, spinColors,
  [703, 810, 917], [740, 847, 953], "spin");
</script>
</body>
</html>
